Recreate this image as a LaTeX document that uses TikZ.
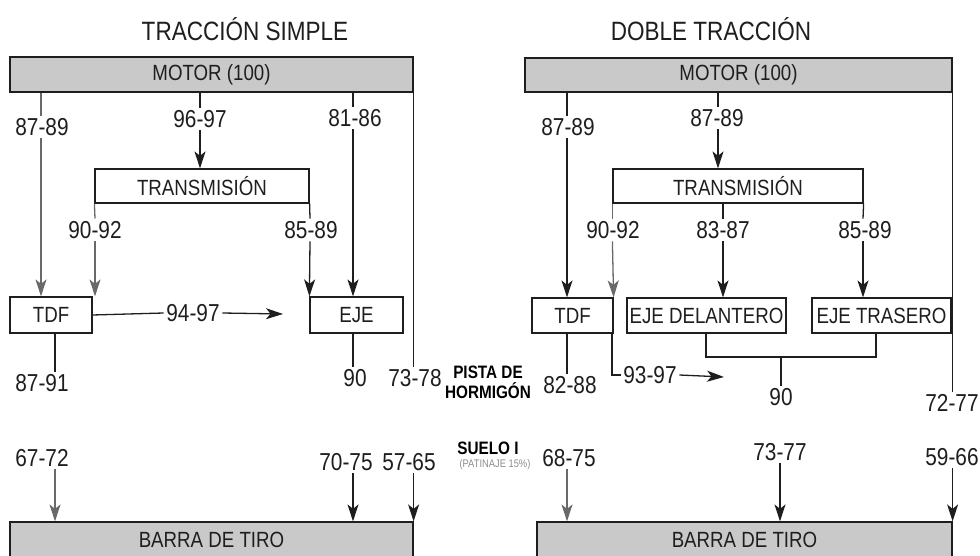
\documentclass[tikz,border=0pt]{standalone}
\usepackage{fontspec}
\setmainfont[FakeStretch=0.85]{Liberation Sans}
\usetikzlibrary{arrows.meta}
\definecolor{boxgray}{RGB}{201,201,201}
\definecolor{ln}{RGB}{30,30,30}
\definecolor{lngray}{RGB}{105,105,105}
\begin{document}
\begin{tikzpicture}[x=1pt,y=-1pt,
  lab/.style={inner sep=2.5pt, font=\fontsize{24.5}{24.5}\selectfont, text=ln},
  ttl/.style={inner sep=0pt, font=\fontsize{26.5}{26.5}\selectfont, text=ln},
  boxw/.style={draw=ln, line width=1.2pt, fill=white, inner sep=0pt, font=\fontsize{22}{22}\selectfont, text=ln},
  boxg/.style={boxw, fill=boxgray},
  ground/.style={inner sep=0pt, font=\bfseries\fontsize{18}{20}\selectfont, align=center, text=black},
  tiny/.style={inner sep=0pt, font=\fontsize{11}{11}\selectfont, text=black!45},
  conn/.style={draw=ln, line width=1.3pt},
  connG/.style={draw=lngray, line width=1.3pt},
  arr/.style={conn, -{Stealth[length=17pt,width=11pt,inset=4.5pt]}},
  arrG/.style={connG, -{Stealth[length=17pt,width=11pt,inset=4.5pt]}}
]
\useasboundingbox (0,0) rectangle (980,556);
\clip (0,0) rectangle (980,556);

% ---------------- titles
\node[ttl] (t1) at (245,29) {TRACCIÓN SIMPLE};
\node[ttl] (t2) at (711,29) {DOBLE TRACCIÓN};

% ---------------- left boxes
\node[boxg, minimum width=403, minimum height=35] (motorL) at (211.5,74.5) {MOTOR (100)};
\node[boxw, minimum width=214, minimum height=34] (transL) at (202,186) {TRANSMISIÓN};
\node[boxw, minimum width=82, minimum height=36] (tdfL) at (51,315) {TDF};
\node[boxw, minimum width=93, minimum height=36] (ejeL) at (356.5,315) {EJE};
\node[boxg, minimum width=403, minimum height=36] (barraL) at (211.5,540) {BARRA DE TIRO};

% ---------------- right boxes
\node[boxg, minimum width=427, minimum height=34] (motorR) at (738.5,75) {MOTOR (100)};
\node[boxw, minimum width=250, minimum height=34] (transR) at (738,186) {TRANSMISIÓN};
\node[boxw, minimum width=81, minimum height=35] (tdfR) at (572.5,315.5) {TDF};
\node[boxw, minimum width=159, minimum height=35] (ejeD) at (706.5,315.5) {EJE DELANTERO};
\node[boxw, minimum width=139, minimum height=35] (ejeT) at (881.5,315.5) {EJE TRASERO};
\node[boxg, minimum width=415, minimum height=36] (barraR) at (744.5,540) {BARRA DE TIRO};

% ---------------- column coordinates
\coordinate (x41) at (41,0);
\coordinate (x55) at (55,0);
\coordinate (x95) at (95,0);
\coordinate (x200) at (200,0);
\coordinate (x310) at (310,0);
\coordinate (x353) at (353,0);
\coordinate (x567) at (567,0);
\coordinate (x612) at (612,0);
\coordinate (x706) at (706,0);
\coordinate (x718) at (718,0);
\coordinate (x723) at (723,0);
\coordinate (x780) at (780,0);
\coordinate (x863) at (863,0);
\coordinate (x876) at (876,0);

% ---------------- left labels
\node[lab] (a1) at (42,127) {87-89};
\node[lab] (a2) at (200,119) {96-97};
\node[lab] (a3) at (355,118) {81-86};
\node[lab] (a4) at (415,378) {73-78};
\node[lab] (b1) at (95,230) {90-92};
\node[lab] (b2) at (311,230) {85-89};
\node[lab] (c1) at (193,313) {94-97};
\coordinate (c1end) at (283,314);
\node[lab] (d1) at (42,383) {87-91};
\node[lab] (d2) at (355,378) {90};
\node[lab] (e1) at (42,458) {67-72};
\node[lab] (e2) at (346,462) {70-75};
\node[lab] (e3) at (409,462) {57-65};

% ---------------- left connectors
\draw[connG] (motorL.south -| x41) -- (a1.north -| x41);
\draw[arrG] (a1.south -| x41) -- (tdfL.north -| x41);
\draw[conn] (motorL.south -| x200) -- (a2.north -| x200);
\draw[arr] (a2.south -| x200) -- (transL.north -| x200);
\draw[conn] (motorL.south -| x353) -- (a3.north -| x353);
\draw[arr] (a3.south -| x353) -- (ejeL.north -| x353);
\draw[conn] (motorL.south east) -- (a4.north -| motorL.south east);
\draw[connG] (transL.south west) -- (b1.north -| x95);
\draw[arrG] (b1.south -| x95) -- (tdfL.north -| x95);
\draw[conn] (transL.south east) -- (b2.north -| x310);
\draw[arr] (b2.south -| x310) -- (ejeL.north west);
\draw[conn] (tdfL.east) -- (c1.west);
\draw[arr] (c1.east) -- (c1end);
\draw[conn] (tdfL.south -| x55) -- (d1.north -| x55);
\draw[conn] (ejeL.south -| x353) -- (d2.north -| x353);
\draw[arrG] (e1.south -| x55) -- (barraL.north -| x55);
\draw[arr] (e2.south -| x353) -- (barraL.north -| x353);
\draw[arr] (e3.south -| barraL.north east) -- (barraL.north east);

% ---------------- middle ground labels
\node[ground] (pista) at (488,382) {PISTA DE\\HORMIGÓN};
\node[ground] (suelo) at (488,448) {SUELO I};
\node[tiny] (patin) at (495,465) {(PATINAJE 15\%)};

% ---------------- right labels
\node[lab] (f1) at (568,127) {87-89};
\node[lab] (f2) at (717,118) {87-89};
\node[lab] (g4) at (952,403) {72-77};
\node[lab] (g1) at (613,230) {90-92};
\node[lab] (g2) at (723,230) {83-87};
\node[lab] (g3) at (865,230) {85-89};
\node[lab] (h1) at (570,385) {82-88};
\node[lab] (h2) at (650,375) {93-97};
\coordinate (h2end) at (724,377);
\coordinate (brk) at (781,357);
\node[lab] (h3) at (781,397) {90};
\node[lab] (i1) at (569,458) {68-75};
\node[lab] (i2) at (780,452) {73-77};
\node[lab] (i3) at (952,457) {59-66};

% ---------------- right connectors
\draw[conn] (motorR.south -| x567) -- (f1.north -| x567);
\draw[arr] (f1.south -| x567) -- (tdfR.north -| x567);
\draw[conn] (motorR.south -| x718) -- (f2.north -| x718);
\draw[arr] (f2.south -| x718) -- (transR.north -| x718);
\draw[conn] (motorR.south east) -- (g4.north -| motorR.south east);
\draw[connG] (transR.south west) -- (g1.north -| transR.south west);
\draw[arrG] (g1.south -| transR.south west) -- (tdfR.north east);
\draw[conn] (transR.south -| x723) -- (g2.north -| x723);
\draw[arr] (g2.south -| x723) -- (ejeD.north -| x723);
\draw[conn] (transR.south east) -- (g3.north -| x863);
\draw[arr] (g3.south -| x863) -- (ejeT.north -| x863);
\draw[conn] (tdfR.south -| x567) -- (h1.north -| x567);
\draw[conn] (tdfR.south -| x612) |- (h2.west);
\draw[arr] (h2.east) -- (h2end);
\draw[conn] (ejeD.south -| x706) |- (brk) -| (ejeT.south -| x876);
\draw[conn] (brk) -- (h3.north);
\draw[arrG] (i1.south -| x567) -- (barraR.north -| x567);
\draw[arr] (i2.south -| x780) -- (barraR.north -| x780);
\draw[arr] (i3.south -| barraR.north east) -- (barraR.north east);
\end{tikzpicture}
\end{document}
